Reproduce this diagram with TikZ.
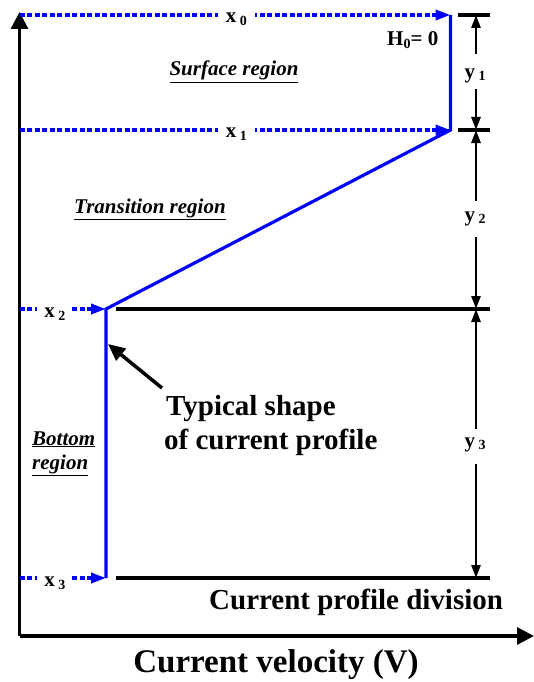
\documentclass[tikz,border=0pt]{standalone}
\usepackage{fontspec}
\setmainfont{Liberation Serif}
\usetikzlibrary{arrows.meta}
\newcommand{\fs}[1]{\fontsize{#1}{#1}\selectfont}
\begin{document}
\begin{tikzpicture}[x=1pt,y=-1pt,
  axisline/.style={line width=3.2pt,-{Triangle[length=17pt,width=17pt]}},
  profline/.style={draw=blue,line width=3.2pt},
  guideline/.style={draw=blue,line width=3.6pt,dash pattern=on 5pt off 2.5pt,-{Triangle[length=15pt,width=10pt,fill=blue]}},
  divline/.style={line width=3.2pt},
  dimline/.style={line width=2.6pt,-{Triangle[length=13pt,width=9pt]}},
  xlab/.style={fill=white,inner ysep=4pt,inner xsep=8pt,font=\fs{21}\bfseries},
  ylab/.style={inner sep=0pt,font=\fs{21}\bfseries},
  regionlab/.style={inner sep=0pt,font=\fs{21}\bfseries\itshape},
  biglab/.style={inner sep=0pt,font=\fs{29}\bfseries}]
\useasboundingbox (0,0) rectangle (534,682);
% reference coordinates
\coordinate (O) at (19.5,636);
\coordinate (Ytop) at (19.5,12);
\coordinate (Xend) at (534,636);
\coordinate (A0) at (19.5,15);
\coordinate (A1) at (19.5,130);
\coordinate (A2) at (19.5,309);
\coordinate (A3) at (19.5,578);
\coordinate (P0) at (450.5,15);
\coordinate (P1) at (450.5,130);
\coordinate (P2) at (106,309);
\coordinate (P3) at (106,578);
\coordinate (D2s) at (116,309);
\coordinate (D2e) at (490,309);
\coordinate (D3s) at (116,578);
\coordinate (D3e) at (490,578);
\coordinate (T0s) at (458,15);
\coordinate (T0e) at (490,15);
\coordinate (T1s) at (458,130);
\coordinate (T1e) at (490,130);
\coordinate (K0) at (476,15);
\coordinate (K1) at (476,130);
\coordinate (K2) at (476,309);
\coordinate (K3) at (476,578);
% axes
\draw[axisline] (O) -- (Ytop);
\draw[axisline] (O) -- (Xend);
% guide lines
\draw[guideline] (A0) -- node[xlab,pos=0.503,yshift=-4pt]{x\,\raisebox{-3pt}{\fs{14}0}} (P0);
\draw[guideline] (A1) -- node[xlab,pos=0.503,yshift=-4pt]{x\,\raisebox{-3pt}{\fs{14}1}} (P1);
\draw[guideline] (A2) -- node[xlab,pos=0.41,yshift=-5pt,inner xsep=7pt]{x\,\raisebox{-3pt}{\fs{14}2}} (P2);
\draw[guideline] (A3) -- node[xlab,pos=0.41,yshift=-5pt,inner xsep=7pt]{x\,\raisebox{-3pt}{\fs{14}3}} (P3);
% profile
\draw[profline,line join=miter] (P0) -- (P1) -- (P2) -- (P3);
% division lines
\draw[divline] (D2s) -- (D2e);
\draw[divline] (D3s) -- (D3e);
\draw[divline] (T0s) -- (T0e);
\draw[divline] (T1s) -- (T1e);
% dimension labels and arrows
\node[ylab] (y1) at (475,76) {y\,\raisebox{-2pt}{\fs{14}1}};
\node[ylab] (y2) at (475,219) {y\,\raisebox{-2pt}{\fs{14}2}};
\node[ylab] (y3) at (475,445) {y\,\raisebox{-2pt}{\fs{14}3}};
\coordinate (y1t) at (476,54);
\coordinate (y1b) at (476,89);
\coordinate (y2t) at (476,201);
\coordinate (y2b) at (476,237);
\coordinate (y3t) at (476,429);
\coordinate (y3b) at (476,464);
\draw[dimline] (y1t) -- (K0);
\draw[dimline] (y1b) -- (K1);
\draw[dimline] (y2t) -- (K1);
\draw[dimline] (y2b) -- (K2);
\draw[dimline] (y3t) -- (K2);
\draw[dimline] (y3b) -- (K3);
% H0
\node[ylab,anchor=base west] (H) at (387,46) {H\raisebox{-3pt}{\fs{14}0}= 0};
% region labels
\node[regionlab,anchor=base] (surf) at (234,76) {\underline{Surface region}};
\node[regionlab,anchor=base] (trans) at (150,213) {\underline{Transition region}};
\node[regionlab,anchor=base west,align=left] (bot) at (32,445) {\underline{Bottom}};
\node[regionlab,anchor=base west,align=left] (bot2) at (32,469) {\underline{region}};
% typical shape
\node[biglab,anchor=base west] (typ1) at (166,415) {Typical shape};
\node[biglab,anchor=base west] (typ2) at (164,449) {of current profile};
\coordinate (arrtail) at (162,388);
\coordinate (arrtip) at (108,344);
\draw[line width=3.5pt,-{Triangle[length=17pt,width=15pt]}] (arrtail) -- (arrtip);
% captions
\node[biglab,anchor=base west] (div) at (209,609) {Current profile division};
\node[inner sep=0pt,font=\fs{33}\bfseries,anchor=base] (vel) at (276,672) {Current velocity (V)};
\end{tikzpicture}
\end{document}
